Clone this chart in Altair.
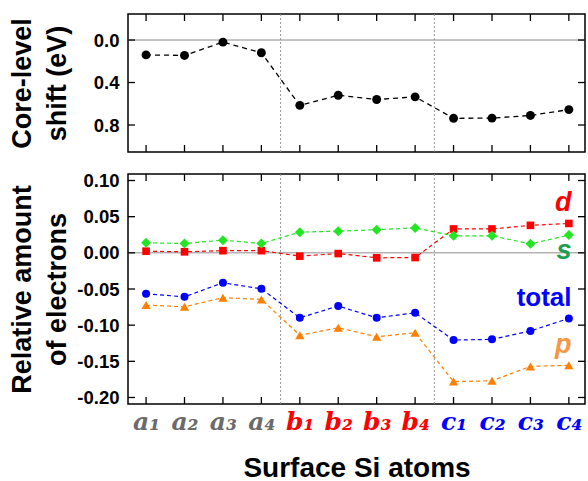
import json
import altair as alt
import pandas as pd

# ---------------- data ----------------
atoms = ["a₁", "a₂", "a₃", "a₄", "b₁", "b₂", "b₃", "b₄", "c₁", "c₂", "c₃", "c₄"]
pos = list(range(1, 13))
core_shift = [0.14, 0.145, 0.02, 0.12, 0.615, 0.52, 0.56, 0.535, 0.737, 0.735, 0.71, 0.655]

s_vals = [0.0138, 0.013, 0.0175, 0.013, 0.0286, 0.030, 0.032, 0.0345, 0.0235, 0.0235, 0.0124, 0.0245]
d_vals = [0.0023, 0.0014, 0.003, 0.003, -0.0046, -0.001, -0.0069, -0.0065, 0.033, 0.033, 0.038, 0.0406]
total_vals = [-0.0566, -0.0608, -0.0414, -0.0497, -0.0898, -0.0736, -0.0898, -0.0829,
              -0.1206, -0.1196, -0.108, -0.0907]
p_vals = [-0.0722, -0.0746, -0.062, -0.0644, -0.114, -0.1036, -0.116, -0.1105,
          -0.178, -0.177, -0.157, -0.1555]

separators = [4.5, 8.5]
top_ticks = [0.0, 0.4, 0.8]
bottom_ticks = [-0.20, -0.15, -0.10, -0.05, 0.0, 0.05, 0.10]

series_names = ["d", "s", "total", "p"]
series_colors = ["#ff0000", "#22e622", "#0000ff", "#ff8000"]
series_shapes = ["square", "diamond", "circle", "triangle-up"]
series_sizes = [58, 100, 64, 85]

label_text = ["d", "s", "total", "p"]
label_color = ["#ff0000", "#1f9e50", "#0000ff", "#f79646"]
label_y = [0.0576, -0.0087, -0.0736, -0.1385]
label_x = [12.07, 12.07, 12.07, 12.07]
label_italic = [True, True, False, True]

# ---------------- tables ----------------
W, H1, H2 = 457, 138, 230
TICK = 7

top_df = pd.DataFrame({"pos": pos, "shift": core_shift})
series_vals = {"d": d_vals, "s": s_vals, "total": total_vals, "p": p_vals}
rows = []
for name in series_names:
    for p_, v in zip(pos, series_vals[name]):
        rows.append({"pos": p_, "value": v, "series": name})
bot_df = pd.DataFrame(rows)
lab_df = pd.DataFrame({"text": label_text, "color": label_color, "y": label_y,
                       "x": label_x, "italic": label_italic})
zero_df = pd.DataFrame({"v": [0.0]})
sep_df = pd.DataFrame({"v": separators})
pos_df = pd.DataFrame({"pos": pos})

XDOM = [0.53, 12.42]
Y1DOM = [-0.245, 1.054]
Y2DOM = [-0.209, 0.109]


def xs():
    return alt.Scale(domain=XDOM, nice=False, zero=False)


def y1s():
    return alt.Scale(domain=Y1DOM, reverse=True, nice=False, zero=False)


def y2s():
    return alt.Scale(domain=Y2DOM, nice=False, zero=False)


BOLD = "Liberation Sans"


def y_main_axis(values, fmt, title, h):
    return alt.Axis(orient="left", values=values,
                    labelExpr=f"(datum.value < -1e-9 ? '-' : '') + format(abs(datum.value), '{fmt}')",
                    ticks=False, tickSize=0, domain=False, grid=False, labelPadding=9,
                    labelFont=BOLD, labelFontWeight="bold", labelFontSize=18.5, labelColor="black",
                    title=title, titleFont=BOLD, titleFontWeight="bold", titleFontSize=27,
                    titleColor="black", titleX=-98, titleY=h / 2, titleAngle=-90,
                    titleBaseline="alphabetic", titleAlign="center", titleLineHeight=35)


def frame_layers(yscale_fn, yvals, y_top, y_bottom):
    """Inward ticks on all four edges, the zero line and the dotted separators."""
    tk = dict(color="black", strokeWidth=1.3)
    ytick_df = pd.DataFrame({"t": yvals})
    x_top = alt.Chart(pos_df).mark_rule(y2Offset=TICK, **tk).encode(
        x=alt.X("pos:Q", scale=xs(), axis=None),
        y=alt.Y(datum=y_top, type="quantitative", scale=yscale_fn(), axis=None),
        y2=alt.Y2(datum=y_top))
    x_bot = alt.Chart(pos_df).mark_rule(y2Offset=-TICK, **tk).encode(
        x=alt.X("pos:Q", scale=xs(), axis=None),
        y=alt.Y(datum=y_bottom, type="quantitative", scale=yscale_fn(), axis=None),
        y2=alt.Y2(datum=y_bottom))
    y_left = alt.Chart(ytick_df).mark_rule(x2Offset=TICK, **tk).encode(
        y=alt.Y("t:Q", scale=yscale_fn(), axis=None),
        x=alt.X(datum=XDOM[0], type="quantitative", scale=xs(), axis=None),
        x2=alt.X2(datum=XDOM[0]))
    y_right = alt.Chart(ytick_df).mark_rule(x2Offset=-TICK, **tk).encode(
        y=alt.Y("t:Q", scale=yscale_fn(), axis=None),
        x=alt.X(datum=XDOM[1], type="quantitative", scale=xs(), axis=None),
        x2=alt.X2(datum=XDOM[1]))
    zero = alt.Chart(zero_df).mark_rule(color="#8c8c8c", strokeWidth=1).encode(
        y=alt.Y("v:Q", scale=yscale_fn(), axis=None))
    seps = alt.Chart(sep_df).mark_rule(color="#8c8c8c", strokeWidth=0.9, strokeDash=[2, 2]).encode(
        x=alt.X("v:Q", scale=xs(), axis=None))
    return [zero, seps, x_top, x_bot, y_left, y_right]


# ---------------- top panel ----------------
top_line = alt.Chart(top_df).mark_line(strokeDash=[5, 4], color="black", strokeWidth=1.3).encode(
    x=alt.X("pos:Q", scale=xs(), axis=None),
    y=alt.Y("shift:Q", scale=y1s(),
            axis=y_main_axis(top_ticks, ".1f", ["Core-level", "shift (eV)"], H1)),
)
top_pts = alt.Chart(top_df).mark_point(filled=True, opacity=1, color="black", size=80).encode(
    x=alt.X("pos:Q", scale=xs(), axis=None),
    y=alt.Y("shift:Q", scale=y1s(), axis=None),
)
top = alt.layer(*frame_layers(y1s, top_ticks, Y1DOM[0], Y1DOM[1]),
                top_line, top_pts).resolve_axis(
    x="independent", y="independent").properties(width=W, height=H1)

# ---------------- bottom panel ----------------
label_array = json.dumps(atoms, ensure_ascii=False)
bot_x_axis = alt.Axis(
    orient="bottom", values=pos, labelExpr=f"{label_array}[datum.value - 1]",
    ticks=False, tickSize=0, domain=False, grid=False, labelPadding=5,
    labelFont="DejaVu Serif", labelFontStyle="italic", labelFontWeight="bold", labelFontSize=25,
    labelColor={"condition": [{"test": "datum.value <= 4", "value": "#6b6b6b"},
                              {"test": "datum.value <= 8", "value": "#ff0000"}],
                "value": "#0000ff"},
    title="Surface Si atoms", titleFont=BOLD, titleFontWeight="bold", titleFontSize=28,
    titleColor="black", titleX=W / 2, titleY=72, titleBaseline="alphabetic",
)

color_scale = alt.Scale(domain=series_names, range=series_colors)
bot_line = alt.Chart(bot_df).mark_line(strokeDash=[4, 3], strokeWidth=1.2).encode(
    x=alt.X("pos:Q", scale=xs(), axis=bot_x_axis),
    y=alt.Y("value:Q", scale=y2s(),
            axis=y_main_axis(bottom_ticks, ".2f", ["Relative amount", "of electrons"], H2)),
    color=alt.Color("series:N", scale=color_scale, legend=None),
)
pt_layers = []
for name, col, shp, sz in zip(series_names, series_colors, series_shapes, series_sizes):
    pt_layers.append(
        alt.Chart(bot_df).transform_filter(alt.datum.series == name).mark_point(
            filled=True, opacity=1, color=col, shape=shp, size=sz).encode(
            x=alt.X("pos:Q", scale=xs(), axis=None),
            y=alt.Y("value:Q", scale=y2s(), axis=None),
        )
    )
lab_it = alt.Chart(lab_df).transform_filter("datum.italic").mark_text(
    align="right", baseline="alphabetic", font=BOLD, fontWeight="bold", fontStyle="italic",
    fontSize=27).encode(
    x=alt.X("x:Q", scale=xs(), axis=None),
    y=alt.Y("y:Q", scale=y2s(), axis=None),
    text="text:N",
    color=alt.Color("color:N", scale=None),
)
lab_up = alt.Chart(lab_df).transform_filter("!datum.italic").mark_text(
    align="right", baseline="alphabetic", font=BOLD, fontWeight="bold",
    fontSize=26).encode(
    x=alt.X("x:Q", scale=xs(), axis=None),
    y=alt.Y("y:Q", scale=y2s(), axis=None),
    text="text:N",
    color=alt.Color("color:N", scale=None),
)
bottom = alt.layer(*frame_layers(y2s, bottom_ticks, Y2DOM[1], Y2DOM[0]),
                   bot_line, *pt_layers, lab_it, lab_up).resolve_scale(
    color="independent").resolve_axis(x="independent", y="independent").properties(
    width=W, height=H2)

chart = alt.vconcat(top, bottom, spacing=16).properties(
    padding={"left": 7, "top": 12, "right": 0, "bottom": 0},
    background="white",
).configure_view(stroke="black", strokeWidth=1.5)

chart.save("out.html", embed_options={"renderer": "svg", "actions": False})
